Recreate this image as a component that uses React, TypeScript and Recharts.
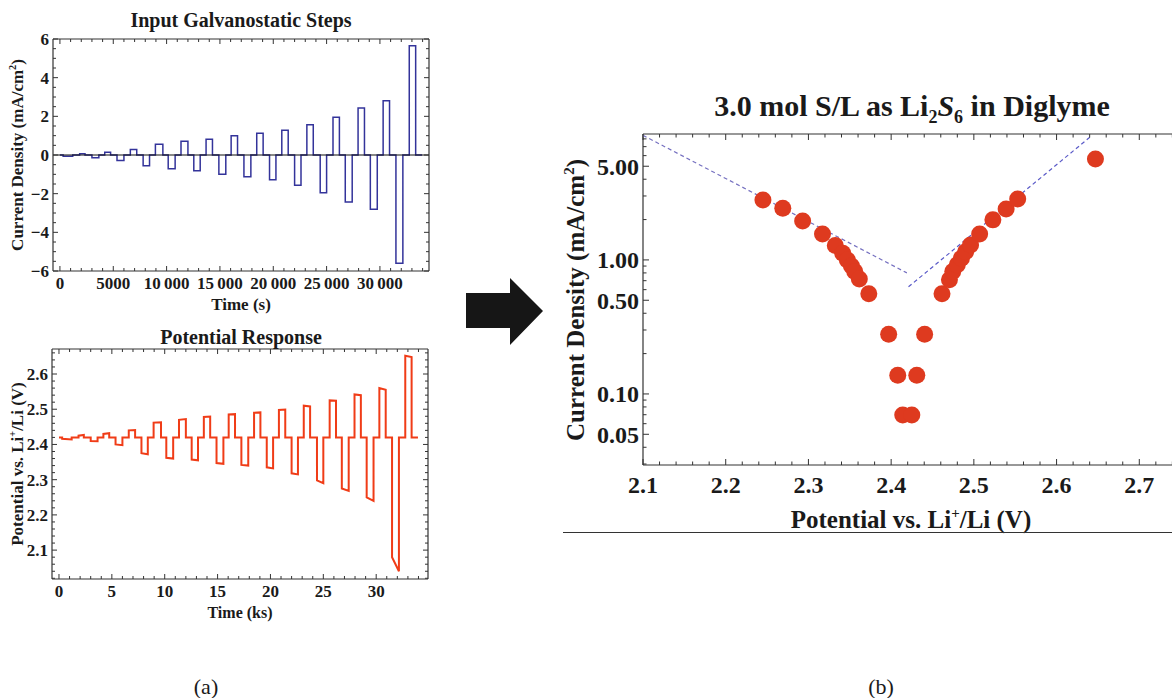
import React from "react";
import { LineChart, Line, XAxis, YAxis, ReferenceLine, ComposedChart, Scatter } from "recharts";

const FONT = '"Liberation Serif", "DejaVu Serif", "Times New Roman", serif';
const INK = "#1a1a1a";

// galvanostatic pulses (time in s, current in mA/cm2)
const pulseStart = [300, 1850, 3000, 4200, 5350, 6600, 7800, 8950, 10150, 11350, 12550, 13700, 14900, 16050, 17250, 18450, 19650, 20800, 22000, 23150, 24400, 25600, 26750, 27950, 29100, 30300, 31500, 32750];
const pulseEnd = [1200, 2350, 3650, 4750, 6000, 7200, 8400, 9650, 10800, 12000, 13150, 14300, 15550, 16650, 17900, 19050, 20250, 21400, 22600, 23750, 25000, 26200, 27400, 28550, 29750, 30900, 32150, 33350];
const pulseCurrent = [-0.07, 0.07, -0.14, 0.14, -0.28, 0.28, -0.56, 0.56, -0.71, 0.71, -0.82, 0.82, -1.0, 1.0, -1.12, 1.12, -1.28, 1.28, -1.56, 1.56, -1.95, 1.95, -2.43, 2.43, -2.8, 2.8, -5.6, 5.65];
const endTime = 33950;

// measured potential at start / end of each pulse (V)
const potentialStart = [2.416, 2.425, 2.41, 2.43, 2.4, 2.44, 2.375, 2.462, 2.362, 2.47, 2.357, 2.478, 2.347, 2.485, 2.342, 2.49, 2.335, 2.498, 2.318, 2.51, 2.298, 2.525, 2.275, 2.542, 2.25, 2.56, 2.08, 2.652];
const potentialEnd = [2.414, 2.427, 2.409, 2.432, 2.398, 2.441, 2.372, 2.463, 2.36, 2.472, 2.355, 2.479, 2.345, 2.486, 2.34, 2.491, 2.332, 2.499, 2.315, 2.508, 2.29, 2.524, 2.268, 2.54, 2.24, 2.555, 2.04, 2.648];
const restPotential = 2.42;

// Tafel plot points
const cathodicV = [2.245, 2.269, 2.293, 2.317, 2.3325, 2.3415, 2.347, 2.352, 2.356, 2.3615, 2.373, 2.397, 2.408, 2.414];
const cathodicI = [2.8, 2.43, 1.95, 1.56, 1.28, 1.12, 1.0, 0.9, 0.82, 0.72, 0.56, 0.279, 0.138, 0.0697];
const anodicV = [2.425, 2.431, 2.4405, 2.4615, 2.4705, 2.4745, 2.48, 2.485, 2.49, 2.496, 2.507, 2.523, 2.539, 2.553, 2.647];
const anodicI = [0.0697, 0.138, 0.279, 0.56, 0.71, 0.82, 0.92, 1.03, 1.15, 1.29, 1.56, 1.99, 2.4, 2.85, 5.67];
const cathodicFitV = [2.1, 2.419];
const cathodicFitI = [8.5, 0.8];
const anodicFitV = [2.421, 2.643];
const anodicFitI = [0.63, 8.5];

const range = (a: number, b: number, step: number) => {
  const out: number[] = [];
  const n = Math.round((b - a) / step);
  for (let k = 0; k <= n; k++) out.push(+(a + k * step).toFixed(6));
  return out;
};

const currentSeries = [{ t: 0, i: 0 }];
pulseStart.forEach((s, k) => {
  currentSeries.push({ t: s, i: 0 }, { t: s, i: pulseCurrent[k] }, { t: pulseEnd[k], i: pulseCurrent[k] }, { t: pulseEnd[k], i: 0 });
});
currentSeries.push({ t: endTime, i: 0 });

const potentialSeries = [{ t: 0, v: restPotential }];
pulseStart.forEach((s, k) => {
  potentialSeries.push(
    { t: s / 1000, v: restPotential },
    { t: s / 1000, v: potentialStart[k] },
    { t: pulseEnd[k] / 1000, v: potentialEnd[k] },
    { t: pulseEnd[k] / 1000, v: restPotential }
  );
});
potentialSeries.push({ t: endTime / 1000, v: restPotential });

const cathodic = cathodicV.map((v, k) => ({ v, i: cathodicI[k] }));
const anodic = anodicV.map((v, k) => ({ v, i: anodicI[k] }));
const cathodicFit = cathodicFitV.map((v, k) => ({ v, i: cathodicFitI[k] }));
const anodicFit = anodicFitV.map((v, k) => ({ v, i: anodicFitI[k] }));

const FrameTick = (props: any) => {
  const { x, y, payload, side, majors, fmt, fontSize, offset, major, minor } = props;
  const v = payload.value;
  const isMaj = majors.some((m: number) => Math.abs(m - v) < 1e-9 + 1e-6 * Math.abs(m));
  const len = isMaj ? major : minor;
  let l = { x1: x, y1: y, x2: x, y2: y };
  if (side === "bottom") l = { x1: x, y1: y, x2: x, y2: y - len };
  if (side === "top") l = { x1: x, y1: y, x2: x, y2: y + len };
  if (side === "left") l = { x1: x, y1: y, x2: x + len, y2: y };
  if (side === "right") l = { x1: x, y1: y, x2: x - len, y2: y };
  const tp = { fontFamily: FONT, fontWeight: 700, fontSize, fill: INK };
  return (
    <g>
      <line {...l} stroke="#333" strokeWidth={1} />
      {isMaj && fmt && side === "bottom" && (
        <text x={x} y={y + offset} dy={fontSize * 0.35} textAnchor="middle" {...tp}>{fmt(v)}</text>
      )}
      {isMaj && fmt && side === "left" && (
        <text x={x - offset} y={y} dy={fontSize * 0.35} textAnchor="end" {...tp}>{fmt(v)}</text>
      )}
    </g>
  );
};

const Txt = ({ x, y, size, rotate = 0, weight = 700, children }: any) => (
  <div
    style={{
      position: "absolute", left: x, top: y, transform: `translate(-50%, -50%) rotate(${rotate}deg)`,
      fontFamily: FONT, fontSize: size, fontWeight: weight, whiteSpace: "nowrap", lineHeight: 1, color: INK,
    }}
  >
    {children}
  </div>
);

const frameAxis = { stroke: "#333", strokeWidth: 1.2 };
const fmtTime = (v: number) => (v < 10000 ? String(v) : String(v).replace(/(\d+)(\d{3})$/, "$1\u2009$2"));
const fmtSigned = (v: number) => (v < 0 ? `\u2212${-v}` : String(v));

const timeTicksS = range(0, 34000, 1000);
const timeMajorsS = range(0, 30000, 5000);
const currentTicks = range(-6, 6, 0.5);
const currentMajors = range(-6, 6, 2);
const timeTicksKs = range(0, 34, 1);
const timeMajorsKs = range(0, 30, 5);
const potTicks = range(2.02, 2.66, 0.02);
const potMajors = range(2.1, 2.6, 0.1);
const vTicks = range(2.1, 2.74, 0.02);
const vMajors = range(2.1, 2.7, 0.1);
const iTicks = [0.03, 0.04, 0.05, 0.06, 0.07, 0.08, 0.09, 0.1, 0.2, 0.3, 0.4, 0.5, 0.6, 0.7, 0.8, 0.9, 1, 2, 3, 4, 5, 6, 7, 8];
const iMajors = [0.05, 0.1, 0.5, 1, 5];

const hidden = { stroke: "none", strokeWidth: 0 };

export default function App() {
  const tsDomain: [number, number] = [-650, 34600];
  const tkDomain: [number, number] = [-0.66, 34.9];
  const iDomain: [number, number] = [-6, 6];
  const vDomain: [number, number] = [2.018, 2.671];
  const pDomain: [number, number] = [2.1, 2.8];
  const logDomain: [number, number] = [0.0295, 8.7];

  return (
    <div style={{ position: "fixed", left: 0, top: 0, width: 1172, height: 698, overflow: "hidden", background: "#fff" }}>
      {/* (a) top: input steps */}
      <div style={{ position: "absolute", left: 0, top: 0 }}>
        <LineChart width={440} height={320} data={currentSeries} margin={{ top: 38, right: 10, bottom: 0, left: 0 }}>
          <XAxis xAxisId="b" dataKey="t" type="number" domain={tsDomain} allowDataOverflow ticks={timeTicksS} interval={0}
            height={49} tickSize={0} tickMargin={0} tickLine={false} axisLine={frameAxis}
            tick={<FrameTick side="bottom" majors={timeMajorsS} fmt={fmtTime} fontSize={17} offset={12} major={5} minor={3} />} />
          <XAxis xAxisId="t" orientation="top" dataKey="t" type="number" domain={tsDomain} allowDataOverflow ticks={timeTicksS} interval={0}
            height={1} tickSize={0} tickMargin={0} tickLine={false} axisLine={frameAxis}
            tick={<FrameTick side="top" majors={timeMajorsS} major={5} minor={3} />} />
          <YAxis yAxisId="l" dataKey="i" type="number" domain={iDomain} allowDataOverflow ticks={currentTicks} interval={0}
            width={53} tickSize={0} tickMargin={0} tickLine={false} axisLine={frameAxis}
            tick={<FrameTick side="left" majors={currentMajors} fmt={fmtSigned} fontSize={17} offset={4} major={5} minor={3} />} />
          <YAxis yAxisId="r" orientation="right" dataKey="i" type="number" domain={iDomain} allowDataOverflow ticks={currentTicks} interval={0}
            width={1} tickSize={0} tickMargin={0} tickLine={false} axisLine={frameAxis}
            tick={<FrameTick side="right" majors={currentMajors} major={5} minor={3} />} />
          <Line xAxisId="t" yAxisId="r" dataKey="i" type="linear" {...hidden} dot={false} isAnimationActive={false} />
          <Line xAxisId="b" yAxisId="l" dataKey="i" type="linear" stroke="#33339a" strokeWidth={1.5} dot={false} isAnimationActive={false} />
          <ReferenceLine xAxisId="b" yAxisId="l" y={0} stroke="#111" strokeWidth={1.2} />
        </LineChart>
      </div>
      <Txt x={241} y={20} size={20}>Input Galvanostatic Steps</Txt>
      <Txt x={241} y={304} size={17}>Time (s)</Txt>
      <Txt x={17} y={155} size={17} rotate={-90}>Current Density (mA/cm<sup style={{ fontSize: "0.6em" }}>2</sup>)</Txt>

      {/* (a) bottom: potential response */}
      <div style={{ position: "absolute", left: 0, top: 300 }}>
        <LineChart width={440} height={320} data={potentialSeries} margin={{ top: 48, right: 11, bottom: 0, left: 0 }}>
          <XAxis xAxisId="b" dataKey="t" type="number" domain={tkDomain} allowDataOverflow ticks={timeTicksKs} interval={0}
            height={41} tickSize={0} tickMargin={0} tickLine={false} axisLine={frameAxis}
            tick={<FrameTick side="bottom" majors={timeMajorsKs} fmt={(v: number) => String(v)} fontSize={17} offset={12} major={5} minor={3} />} />
          <XAxis xAxisId="t" orientation="top" dataKey="t" type="number" domain={tkDomain} allowDataOverflow ticks={timeTicksKs} interval={0}
            height={1} tickSize={0} tickMargin={0} tickLine={false} axisLine={frameAxis}
            tick={<FrameTick side="top" majors={timeMajorsKs} major={5} minor={3} />} />
          <YAxis yAxisId="l" dataKey="v" type="number" domain={vDomain} allowDataOverflow ticks={potTicks} interval={0}
            width={52} tickSize={0} tickMargin={0} tickLine={false} axisLine={frameAxis}
            tick={<FrameTick side="left" majors={potMajors} fmt={(v: number) => v.toFixed(1)} fontSize={17} offset={4} major={5} minor={3} />} />
          <YAxis yAxisId="r" orientation="right" dataKey="v" type="number" domain={vDomain} allowDataOverflow ticks={potTicks} interval={0}
            width={1} tickSize={0} tickMargin={0} tickLine={false} axisLine={frameAxis}
            tick={<FrameTick side="right" majors={potMajors} major={5} minor={3} />} />
          <Line xAxisId="t" yAxisId="r" dataKey="v" type="linear" {...hidden} dot={false} isAnimationActive={false} />
          <Line xAxisId="b" yAxisId="l" dataKey="v" type="linear" stroke="#f03c17" strokeWidth={2} dot={false} isAnimationActive={false} />
        </LineChart>
      </div>
      <Txt x={241} y={337} size={20}>Potential Response</Txt>
      <Txt x={240} y={613} size={16}>Time (ks)</Txt>
      <Txt x={17} y={464} size={17} rotate={-90}>Potential vs. Li<sup style={{ fontSize: "0.6em" }}>+</sup>/Li (V)</Txt>

      {/* arrow */}
      <svg style={{ position: "absolute", left: 460, top: 270 }} width={90} height={80}>
        <polygon points="6,23 50,23 50,8 83,41 50,75 50,58 6,58" fill="#161616" />
      </svg>

      {/* (b) Tafel plot */}
      <div style={{ position: "absolute", left: 555, top: 100 }}>
        <ComposedChart width={700} height={420} margin={{ top: 33, right: 32, bottom: 0, left: 0 }}>
          <XAxis xAxisId="b" dataKey="v" type="number" domain={pDomain} allowDataOverflow ticks={vTicks} interval={0}
            height={55} tickSize={0} tickMargin={0} tickLine={false} axisLine={frameAxis}
            tick={<FrameTick side="bottom" majors={vMajors} fmt={(v: number) => v.toFixed(1)} fontSize={24} offset={20} major={6} minor={3.5} />} />
          <XAxis xAxisId="t" orientation="top" dataKey="v" type="number" domain={pDomain} allowDataOverflow ticks={vTicks} interval={0}
            height={1} tickSize={0} tickMargin={0} tickLine={false} axisLine={frameAxis}
            tick={<FrameTick side="top" majors={vMajors} major={6} minor={3.5} />} />
          <YAxis yAxisId="l" dataKey="i" type="number" scale="log" domain={logDomain} allowDataOverflow ticks={iTicks} interval={0}
            width={88} tickSize={0} tickMargin={0} tickLine={false} axisLine={frameAxis}
            tick={<FrameTick side="left" majors={iMajors} fmt={(v: number) => v.toFixed(2)} fontSize={24} offset={4} major={6} minor={3.5} />} />
          <YAxis yAxisId="r" orientation="right" dataKey="i" type="number" scale="log" domain={logDomain} allowDataOverflow ticks={iTicks} interval={0}
            width={1} tickSize={0} tickMargin={0} tickLine={false} axisLine={frameAxis}
            tick={<FrameTick side="right" majors={iMajors} major={6} minor={3.5} />} />
          <Scatter xAxisId="t" yAxisId="r" data={anodicFit} shape={() => <g />} isAnimationActive={false} />
          <Scatter xAxisId="b" yAxisId="l" data={cathodicFit} line={{ stroke: "#7570c0", strokeWidth: 1.2, strokeDasharray: "4 3" }}
            shape={() => <g />} isAnimationActive={false} />
          <Scatter xAxisId="b" yAxisId="l" data={anodicFit} line={{ stroke: "#5a5ac8", strokeWidth: 1.2, strokeDasharray: "4 3" }}
            shape={() => <g />} isAnimationActive={false} />
          <Scatter xAxisId="b" yAxisId="l" data={cathodic} isAnimationActive={false}
            shape={(p: any) => <circle cx={p.cx} cy={p.cy} r={8.5} fill="#de3a1f" />} />
          <Scatter xAxisId="b" yAxisId="l" data={anodic} isAnimationActive={false}
            shape={(p: any) => <circle cx={p.cx} cy={p.cy} r={8.5} fill="#de3a1f" />} />
        </ComposedChart>
      </div>
      <Txt x={912} y={108} size={30}>3.0 mol S/L as Li<sub style={{ fontSize: "0.6em" }}>2</sub><i>S</i><sub style={{ fontSize: "0.6em" }}>6</sub> in Diglyme</Txt>
      <Txt x={911} y={519} size={25}>Potential vs. Li<sup style={{ fontSize: "0.6em" }}>+</sup>/Li (V)</Txt>
      <Txt x={575} y={300} size={25} rotate={-90}>Current Density (mA/cm<sup style={{ fontSize: "0.6em" }}>2</sup>)</Txt>
      <div style={{ position: "absolute", left: 563, top: 532, width: 620, borderTop: "1.3px solid #333" }} />

      <Txt x={206} y={687} size={22} weight={400}>(a)</Txt>
      <Txt x={881} y={687} size={22} weight={400}>(b)</Txt>
    </div>
  );
}
